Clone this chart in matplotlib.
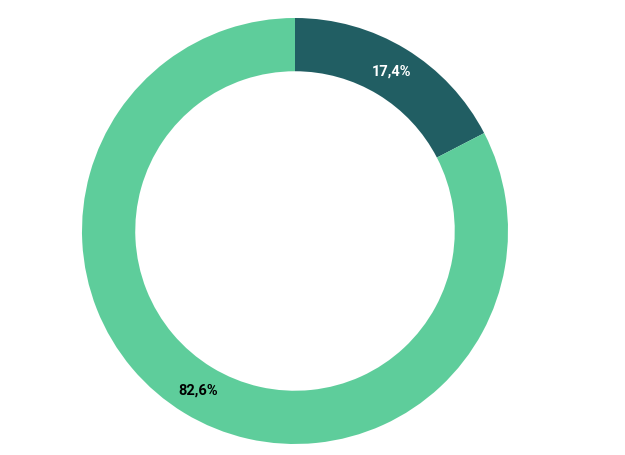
import matplotlib
matplotlib.use("Agg")
from matplotlib import pyplot as plt

labels = ["17,4%", "82,6%"]
values = [17.4, 82.6]
colors = ["#215e63", "#5ecd9b"]
label_colors = ["white", "black"]

W, H = 625, 455
cx, cy, r = 295, 231, 213

fig = plt.figure(figsize=(W / 100, H / 100), dpi=100)
ax = fig.add_axes([(cx - r) / W, (H - cy - r) / H, 2 * r / W, 2 * r / H])
ax.set_xlim(-1, 1)
ax.set_ylim(-1, 1)
ax.axis("off")

wedges, texts = ax.pie(values, colors=colors, startangle=90, counterclock=False,
                       radius=1.0, wedgeprops=dict(width=0.25, linewidth=0),
                       labels=labels, labeldistance=0.875)
for t, c in zip(texts, label_colors):
    t.set_color(c)
    t.set_fontsize(10.5)
    t.set_fontweight("bold")
    t.set_family(["Roboto", "DejaVu Sans"])
    t.set_ha("center")
    t.set_va("center")

ax.set_xlim(-1, 1)
ax.set_ylim(-1, 1)
ax.set_aspect("auto")

fig.savefig("out.png", dpi=100)
